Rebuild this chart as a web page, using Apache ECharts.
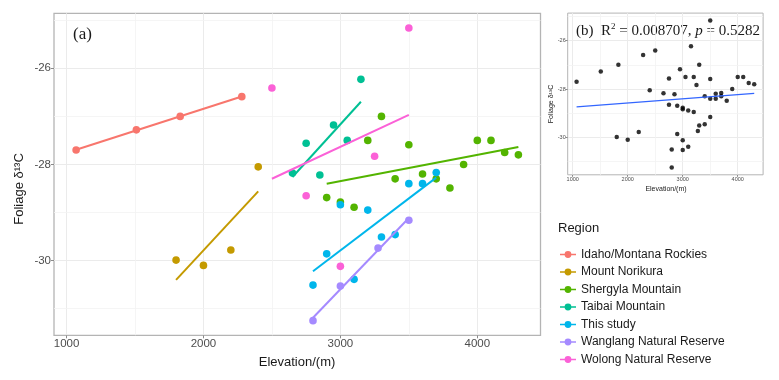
<!DOCTYPE html>
<html><head><meta charset="utf-8">
<script src="https://cdn.jsdelivr.net/npm/echarts@6/dist/echarts.min.js"></script>
<style>html,body{margin:0;padding:0;background:#fff}#c{width:779px;height:380px}</style>
</head><body><div id="c"></div>
<script>
// ---------------- data ----------------
const regions = ['Idaho/Montana Rockies','Mount Norikura','Shergyla Mountain','Taibai Mountain','This study','Wanglang Natural Reserve','Wolong Natural Reserve'];
const regionColors = ['#F8766D','#C49A00','#53B400','#00C094','#00B6EB','#A58AFF','#FB61D7'];

const idahoElev = [1070, 1510, 1830, 2280];
const idahoD13C = [-27.70, -27.28, -27.00, -26.59];

const norikuraElev = [1800, 2000, 2200, 2400];
const norikuraD13C = [-29.99, -30.10, -29.78, -28.05];

const shergylaElev = [2900, 3000, 3100, 3200, 3300, 3400, 3500, 3600, 3700, 3800, 3900, 4000, 4100, 4200, 4300];
const shergylaD13C = [-28.69, -28.78, -28.89, -27.50, -27.00, -28.30, -27.59, -28.20, -28.30, -28.49, -28.00, -27.50, -27.50, -27.75, -27.80];

const taibaiElev = [2650, 2750, 2850, 2950, 3050, 3150];
const taibaiD13C = [-28.18, -27.56, -28.22, -27.18, -27.50, -26.23];

const thisStudyElev = [2800, 2900, 3000, 3100, 3200, 3300, 3400, 3500, 3600, 3700];
const thisStudyD13C = [-30.51, -29.86, -28.84, -30.39, -28.95, -29.51, -29.46, -28.40, -28.40, -28.17];

const wanglangElev = [2800, 3000, 3275, 3500];
const wanglangD13C = [-31.25, -30.53, -29.74, -29.16];

const wolongElev = [2500, 2750, 3000, 3250, 3500];
const wolongD13C = [-26.41, -28.65, -30.12, -27.83, -25.16];

const xMajorTicks = [1000, 2000, 3000, 4000];
const xMinorBreaks = [1500, 2500, 3500];
const yMajorTicks = [-30, -28, -26];
const yMinorBreaks = [-31, -29, -27, -25];

// ---------------- helpers ----------------
const groupElev = [idahoElev, norikuraElev, shergylaElev, taibaiElev, thisStudyElev, wanglangElev, wolongElev];
const groupD13C = [idahoD13C, norikuraD13C, shergylaD13C, taibaiD13C, thisStudyD13C, wanglangD13C, wolongD13C];

function pairs(xs, ys){ return xs.map((x,i)=>[x, ys[i]]); }
function lmLine(xs, ys){
  const n = xs.length;
  const mx = xs.reduce((a,b)=>a+b,0)/n, my = ys.reduce((a,b)=>a+b,0)/n;
  let sxy=0, sxx=0;
  for(let i=0;i<n;i++){ sxy += (xs[i]-mx)*(ys[i]-my); sxx += (xs[i]-mx)*(xs[i]-mx); }
  const b = sxy/sxx, a = my - b*mx;
  const x0 = Math.min(...xs), x1 = Math.max(...xs);
  return [[x0, a+b*x0],[x1, a+b*x1]];
}
const allElev = [].concat(...groupElev);
const allD13C = [].concat(...groupD13C);
function expandRange(v){ const lo=Math.min(...v), hi=Math.max(...v), d=(hi-lo)*0.05; return [lo-d, hi+d]; }
const xr = expandRange(allElev), yr = expandRange(allD13C);

const FONT_SANS = '"Liberation Sans", Arial, sans-serif';
const FONT_SERIF = '"Liberation Serif", "Times New Roman", serif';
const plain = v => String(v);

function makeX(gi, fs, tl, mg){
  return {type:'value', gridIndex:gi, min:xr[0], max:xr[1],
    axisLine:{show:false},
    axisTick:{show:true, customValues:xMajorTicks, length:tl, lineStyle:{color:'#8a8a8a', width:1}},
    axisLabel:{customValues:xMajorTicks, formatter:plain, fontSize:fs, color:'#4D4D4D', fontFamily:FONT_SANS, margin:mg},
    splitLine:{show:true, lineStyle:{color:'#EBEBEB', width:1}}};
}
function makeY(gi, fs, tl, mg){
  return {type:'value', gridIndex:gi, min:yr[0], max:yr[1],
    axisLine:{show:false},
    axisTick:{show:true, customValues:yMajorTicks, length:tl, lineStyle:{color:'#8a8a8a', width:1}},
    axisLabel:{customValues:yMajorTicks, formatter:plain, fontSize:fs, color:'#4D4D4D', fontFamily:FONT_SANS, margin:mg},
    splitLine:{show:true, lineStyle:{color:'#EBEBEB', width:1}}};
}
function minorGridSeries(gi){
  return {type:'scatter', xAxisIndex:gi, yAxisIndex:gi, data:[], silent:true, z:0, zlevel:0,
    markLine:{silent:true, z:0, symbol:['none','none'], label:{show:false},
      lineStyle:{color:'#F2F2F2', width:0.8, type:'solid'},
      emphasis:{disabled:true},
      data: xMinorBreaks.map(v=>({xAxis:v})).concat(yMinorBreaks.map(v=>({yAxis:v})))}};
}

const series = [minorGridSeries(0), minorGridSeries(1)];
regions.forEach((r,i)=>{
  series.push({type:'scatter', name:r, xAxisIndex:0, yAxisIndex:0, data:pairs(groupElev[i], groupD13C[i]),
    symbol:'circle', symbolSize:7.6, itemStyle:{color:regionColors[i], opacity:1}, z:3});
});
regions.forEach((r,i)=>{
  series.push({type:'line', name:r, xAxisIndex:0, yAxisIndex:0, data:lmLine(groupElev[i], groupD13C[i]),
    symbol:'none', lineStyle:{color:regionColors[i], width:2}, itemStyle:{color:regionColors[i]}, z:4});
});
series.push({type:'scatter', name:'all', xAxisIndex:1, yAxisIndex:1, data:pairs(allElev, allD13C),
  symbol:'circle', symbolSize:4.5, itemStyle:{color:'#000'}, z:3});
series.push({type:'line', name:'all fit', xAxisIndex:1, yAxisIndex:1, data:lmLine(allElev, allD13C),
  symbol:'none', lineStyle:{color:'#3366FF', width:1.2}, z:4});

const legendIcon = 'path://M0,3.2 L16,3.2 L16,4.8 L0,4.8 Z M11.4,4 A3.4,3.4 0 1,1 4.6,4 A3.4,3.4 0 1,1 11.4,4 Z';

const option = {
  animation:false,
  backgroundColor:'#ffffff',
  grid:[
    {left:54, top:13.3, width:486.5, height:322, show:true, borderColor:'#B4B4B4', borderWidth:1.3},
    {left:567.7, top:13.1, width:195.4, height:161.7, show:true, borderColor:'#B4B4B4', borderWidth:1}
  ],
  xAxis:[makeX(0, 11.5, 3, 3), makeX(1, 5.5, 2, 2)],
  yAxis:[makeY(0, 11.5, 3, 3), makeY(1, 5.5, 2, 2)],
  legend:{show:true, data:regions, orient:'vertical', left:555, top:243.5, icon:legendIcon,
    itemWidth:16, itemHeight:8, itemGap:5.5, selectedMode:false,
    textStyle:{fontSize:12, color:'#1A1A1A', fontFamily:FONT_SANS}},
  series: series,
  graphic:[
    {type:'text', x:73, y:35, style:{text:'(a)', font:'17px '+FONT_SERIF, fill:'#1A1A1A', textAlign:'left', textVerticalAlign:'middle', align:'left', verticalAlign:'middle'}},
    {type:'text', x:576, y:31, style:{text:'{n|(b)  R}{s|2}{n| = 0.008707, }{i|p}{n| = 0.5282}', fill:'#1A1A1A', textAlign:'left', textVerticalAlign:'middle', align:'left', verticalAlign:'middle',
      rich:{n:{fontFamily:FONT_SERIF, fontSize:15, fill:'#1A1A1A'}, i:{fontFamily:FONT_SERIF, fontSize:15, fontStyle:'italic', fill:'#1A1A1A'}, s:{fontFamily:FONT_SERIF, fontSize:9, fill:'#1A1A1A', verticalAlign:'top', padding:[0,0,8,0]}}}},
    {type:'text', x:19, y:189, rotation:Math.PI/2, style:{text:'Foliage δ¹³C', font:'13px '+FONT_SANS, fill:'#1A1A1A', textAlign:'center', textVerticalAlign:'middle', align:'center', verticalAlign:'middle'}},
    {type:'text', x:297, y:362, style:{text:'Elevation/(m)', font:'13px '+FONT_SANS, fill:'#1A1A1A', textAlign:'center', textVerticalAlign:'middle', align:'center', verticalAlign:'middle'}},
    {type:'text', x:551, y:104, rotation:Math.PI/2, style:{text:'Foliage δ¹³C', font:'7px '+FONT_SANS, fill:'#1A1A1A', textAlign:'center', textVerticalAlign:'middle', align:'center', verticalAlign:'middle'}},
    {type:'text', x:666, y:189, style:{text:'Elevation/(m)', font:'7px '+FONT_SANS, fill:'#1A1A1A', textAlign:'center', textVerticalAlign:'middle', align:'center', verticalAlign:'middle'}},
    {type:'text', x:558, y:228, style:{text:'Region', font:'13px '+FONT_SANS, fill:'#1A1A1A', textAlign:'left', textVerticalAlign:'middle', align:'left', verticalAlign:'middle'}}
  ]
};
const chart = echarts.init(document.getElementById('c'), null, {renderer:'canvas'});
chart.setOption(option);
</script>
</body></html>
